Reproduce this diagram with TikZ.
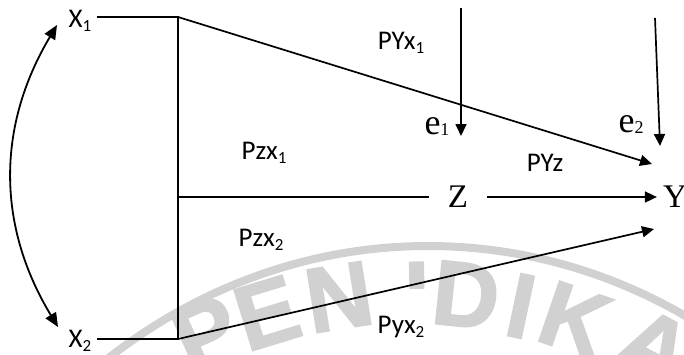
\documentclass[tikz,border=0pt]{standalone}
\usepackage{fontspec}
\setmainfont{Liberation Serif}
\newfontfamily\calfont{Carlito}
\newfontfamily\wmfont{Liberation Sans Bold}[FakeBold=2]
\usetikzlibrary{arrows.meta}
\newcommand{\sbs}[1]{\raisebox{-4pt}{\fontsize{17}{17}\selectfont #1}}
\newcommand{\esb}[1]{\raisebox{-1pt}{\fontsize{18}{18}\selectfont #1}}
\tikzset{
  ln/.style={line width=1.7pt},
  arr/.style={ln, -{Triangle[length=12pt,width=11pt]}},
  dbl/.style={line width=1.8pt, {Triangle[length=14pt,width=12pt]}-{Triangle[length=14pt,width=12pt]}},
  lbl/.style={font=\calfont\fontsize{27}{30}\selectfont, inner sep=0pt},
  serE/.style={font=\fontsize{36}{38}\selectfont, inner sep=0pt},
  serZ/.style={font=\fontsize{33}{35}\selectfont, inner sep=0pt},
  wm/.style={font=\wmfont\fontsize{92}{92}\selectfont, text=black!18, inner sep=0pt},
  wmband/.style={draw=black!18, line width=8pt},
}
\begin{document}
\begin{tikzpicture}[x=1pt,y=-1pt]
\useasboundingbox (0,0) rectangle (684,354);
% watermark
\draw[wmband] (428,873) ellipse[x radius=560, y radius=627];
\node[wm, rotate=24] (wP) at (206,333) {P};
\node[wm, rotate=17] (wE) at (267,313) {E};
\node[wm, rotate=9] (wN) at (339,297) {N};
\begin{scope}
  \clip (0,0) rectangle (684,288);
  \node[wm, rotate=1] (wI1) at (417,294) {I};
\end{scope}
\node[wm, rotate=-6] (wD) at (466,295) {D};
\node[wm, rotate=-12] (wI2) at (521,306) {I};
\node[wm, rotate=-19] (wK) at (575,320) {K};
\node[wm, rotate=-28] (wA) at (655,347) {A};
% structure
\coordinate (c1) at (178,17);
\coordinate (cz) at (178,197);
\coordinate (c2) at (178,339);
\node[lbl, inner xsep=5pt] (X1) at (80,21) {X\sbs{1}};
\node[lbl, inner xsep=5pt] (X2) at (80,341) {X\sbs{2}};
\draw[ln] (X1.east |- c1) -- (c1) -- (c2) -- (X2.east |- c2);
\node[serZ, minimum width=58pt] (Z) at (458,197) {Z};
\node[serZ, inner xsep=6pt] (Y) at (675,197) {Y};
\draw[ln] (cz) -- (Z.west);
\draw[arr] (Z.east) -- (Y.west);
\coordinate (yt) at (652,164);
\coordinate (yb) at (654,229);
\draw[arr] (c1) -- (yt);
\draw[arr] (c2) -- (yb);
% errors
\coordinate (e1s) at (461,8);
\coordinate (e1t) at (461,136);
\coordinate (e2s) at (655,18);
\coordinate (e2t) at (660,146);
\draw[arr] (e1s) -- (e1t);
\draw[arr] (e2s) -- (e2t);
\node[serE] (e1) at (437,127) {e\esb{1}};
\node[serE] (e2) at (631,125) {e\esb{2}};
% correlation
\coordinate (k1) at (57,25);
\coordinate (k2) at (58,327);
\draw[dbl] (k1) to[bend right=31] (k2);
% labels
\node[lbl] (PYx1) at (401,43) {PYx\sbs{1}};
\node[lbl] (Pzx1) at (264,153) {Pzx\sbs{1}};
\node[lbl] (Pzx2) at (261,240) {Pzx\sbs{2}};
\node[lbl] (Pyx2) at (401,327) {Pyx\sbs{2}};
\node[lbl] (PYz) at (545,163) {PYz};
\end{tikzpicture}
\end{document}
